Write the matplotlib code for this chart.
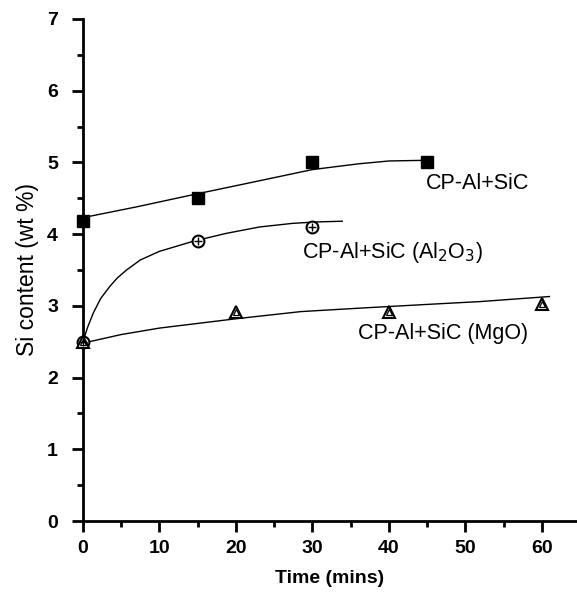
import numpy as np
import matplotlib.pyplot as plt
from matplotlib.ticker import MultipleLocator

# measured points
t_sic = [0, 15, 30, 45]
si_sic = [4.19, 4.5, 5.0, 5.0]
t_al2o3 = [0, 15, 30]
si_al2o3 = [2.5, 3.9, 4.1]
t_mgo = [0, 20, 40, 60]
si_mgo = [2.5, 2.91, 2.91, 3.02]

# fitted curves
fit_t_sic = [0, 7, 14.4, 22, 30, 36, 40, 45]
fit_si_sic = [4.23, 4.38, 4.55, 4.72, 4.9, 4.98, 5.02, 5.03]
fit_t_al2o3 = [0, 0.6, 1.35, 2.3, 3.5, 4.5, 5.7, 7.5, 10.0, 14.4, 18.7, 23.1, 27.4, 30.5, 33.9]
fit_si_al2o3 = [2.5, 2.7, 2.9, 3.1, 3.27, 3.39, 3.5, 3.64, 3.76, 3.9, 4.01, 4.1, 4.15, 4.17, 4.18]
fit_t_mgo = [0, 5, 10, 20, 28.5, 36.5, 45, 52, 61]
fit_si_mgo = [2.48, 2.6, 2.69, 2.82, 2.92, 2.97, 3.02, 3.06, 3.13]

plt.rcParams['font.family'] = ['Liberation Sans', 'DejaVu Sans']

fig = plt.figure(figsize=(5.77, 5.93), dpi=100)
ax = fig.add_axes([0.1438, 0.1214, 0.8562, 0.8466])

ax.plot(fit_t_sic, fit_si_sic, color='black', lw=1.0)
ax.plot(fit_t_al2o3, fit_si_al2o3, color='black', lw=1.0)
ax.plot(fit_t_mgo, fit_si_mgo, color='black', lw=1.0)

ax.plot(t_sic, si_sic, 's', ms=8, color='black', clip_on=False, zorder=5)
ax.plot(t_al2o3, si_al2o3, 'o', ms=8.5, mfc='white', mec='black', mew=1.5, clip_on=False, zorder=5)
ax.plot(t_al2o3, si_al2o3, '+', ms=6, color='black', mew=1.0, clip_on=False, zorder=6)
ax.plot(t_mgo, si_mgo, '^', ms=8.5, mfc='white', mec='black', mew=1.5, clip_on=False, zorder=5)
ax.plot(t_mgo, si_mgo, '^', ms=4, mfc='none', mec='black', mew=0.9, clip_on=False, zorder=6)

ax.text(44.9, 4.70, 'CP-Al+SiC', fontsize=15.5, va='center', ha='left')
ax.text(28.6, 3.74, r'CP-Al+SiC (Al$_2$O$_3$)', fontsize=15.5, va='center', ha='left')
ax.text(36.0, 2.62, 'CP-Al+SiC (MgO)', fontsize=15.5, va='center', ha='left')

ax.set_xlim(0, 64.6)
ax.set_ylim(0, 7)
ax.xaxis.set_major_locator(MultipleLocator(10))
ax.xaxis.set_minor_locator(MultipleLocator(5))
ax.yaxis.set_major_locator(MultipleLocator(1))
ax.yaxis.set_minor_locator(MultipleLocator(0.5))
ax.set_xticks(np.arange(0, 61, 10))

for s in ['top', 'right']:
    ax.spines[s].set_visible(False)
for s in ['left', 'bottom']:
    ax.spines[s].set_linewidth(2)

ax.tick_params(which='major', direction='out', length=8, width=2, labelsize=14, pad=5)
ax.tick_params(which='minor', direction='out', length=4.3, width=2)
ax.tick_params(axis='x', which='major', pad=6)
ax.tick_params(axis='y', which='major', pad=10)
for lab in ax.get_xticklabels() + ax.get_yticklabels():
    lab.set_fontweight('bold')

ax.set_xlabel('Time (mins)', fontsize=14, fontweight='bold', labelpad=9)
ax.set_ylabel('Si content (wt %)', fontsize=16.5, labelpad=6)

fig.savefig('out.png', dpi=100)
